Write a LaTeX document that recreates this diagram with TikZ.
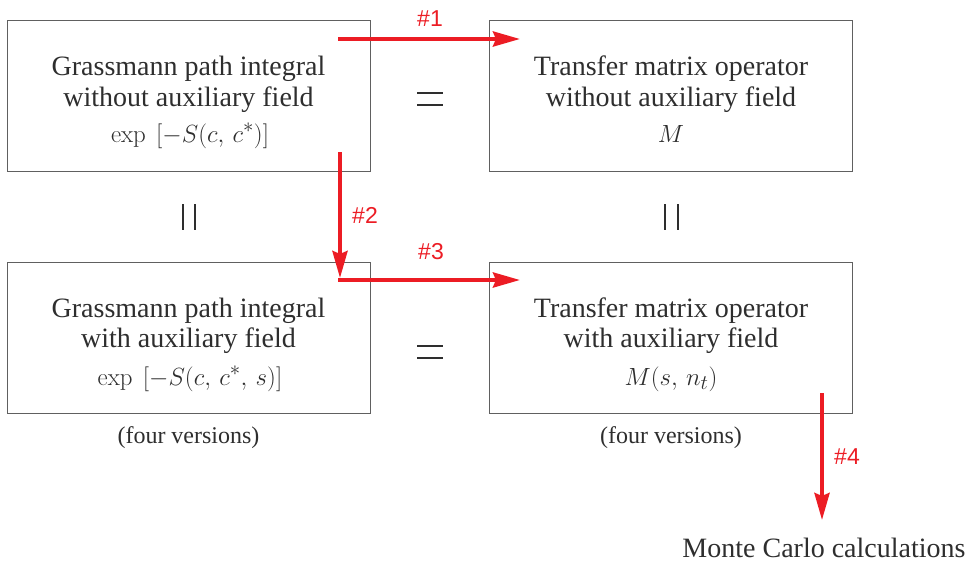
\documentclass[tikz,border=0pt]{standalone}
\usepackage[no-math]{fontspec}
\setmainfont{Liberation Serif}
\newfontfamily\labfont{Liberation Sans}
\usetikzlibrary{arrows.meta}
\definecolor{txt}{HTML}{2E2E2E}
\definecolor{boxc}{HTML}{606060}
\definecolor{arr}{HTML}{EC1C24}
\tikzset{
  box/.style={draw=boxc, line width=1pt, minimum width=363pt, minimum height=151pt, inner sep=0pt},
  main/.style={text=txt, font=\fontsize{28}{28}\selectfont, inner sep=0pt, anchor=base},
  small/.style={text=txt, font=\fontsize{24}{24}\selectfont, inner sep=0pt, anchor=base},
  mth/.style={text=txt, font=\fontsize{24.88}{24.88}\selectfont, inner sep=0pt, anchor=base},
  eqline/.style={draw=txt, line width=2pt},
  redarrow/.style={draw=arr, line width=4pt, -{Stealth[length=27pt,width=15pt,inset=3pt]}},
  rlab/.style={text=arr, font=\labfont\fontsize{23}{23}\selectfont, inner sep=0pt},
}
\begin{document}
\begin{tikzpicture}[x=1pt,y=-1pt]
\useasboundingbox (0,0) rectangle (969,565);
% boxes
\node[box] (tl) at (188.5,96) {};
\node[box] (tr) at (671,96) {};
\node[box] (bl) at (188.5,337.5) {};
\node[box] (br) at (671,337.5) {};
% texts top-left
\node[main] (tl1) at (188.5,75) {Grassmann path integral};
\node[main] (tl2) at (188.5,106) {without auxiliary field};
\node[mth] (tl3) at (190,142) {$\exp\ \,[-S(c,\,c^{*})]$};
% top-right
\node[main] (tr1) at (671,75) {Transfer matrix operator};
\node[main] (tr2) at (671,106) {without auxiliary field};
\node[mth] (tr3) at (671,142) {$M$};
% bottom-left
\node[main] (bl1) at (188.5,317) {Grassmann path integral};
\node[main] (bl2) at (188.5,347) {with auxiliary field};
\node[mth] (bl3) at (190,385) {$\exp\ \,[-S(c,\,c^{*},\,s)]$};
% bottom-right
\node[main] (br1) at (671,317) {Transfer matrix operator};
\node[main] (br2) at (671,347) {with auxiliary field};
\node[mth] (br3) at (671,385) {$M(s,\,n_t)$};
% equal signs (drawn)
\coordinate (e1a) at (417,93);  \coordinate (e1b) at (443,93);
\coordinate (e1c) at (417,105); \coordinate (e1d) at (443,105);
\draw[eqline] (e1a) -- (e1b) (e1c) -- (e1d);
\coordinate (e2a) at (417,346);  \coordinate (e2b) at (443,346);
\coordinate (e2c) at (417,358); \coordinate (e2d) at (443,358);
\draw[eqline] (e2a) -- (e2b) (e2c) -- (e2d);
\coordinate (e3a) at (182.5,204); \coordinate (e3b) at (182.5,230);
\coordinate (e3c) at (195,204);   \coordinate (e3d) at (195,230);
\draw[eqline] (e3a) -- (e3b) (e3c) -- (e3d);
\coordinate (e4a) at (665,204); \coordinate (e4b) at (665,230);
\coordinate (e4c) at (677.5,204);   \coordinate (e4d) at (677.5,230);
\draw[eqline] (e4a) -- (e4b) (e4c) -- (e4d);
% four versions
\node[small] (fv1) at (188.5,443) {(four versions)};
\node[small] (fv2) at (671,443) {(four versions)};
% Monte Carlo
\node[main] (mc) at (824,557) {Monte Carlo calculations};
% arrow coordinates
\coordinate (a1s) at (338,39);
\coordinate (a1e) at (520,39);
\coordinate (a2s) at (340,152);
\coordinate (a2e) at (340,278);
\coordinate (a3s) at (338,280);
\coordinate (a3e) at (520,280);
\coordinate (a4s) at (822,393);
\coordinate (a4e) at (822,520);
\draw[redarrow] (a1s) -- (a1e);
\draw[redarrow] (a2s) -- (a2e);
\draw[redarrow] (a3s) -- (a3e);
\draw[redarrow] (a4s) -- (a4e);
\node[rlab] (l1) at (430,19) {\#1};
\node[rlab] (l2) at (365,215) {\#2};
\node[rlab] (l3) at (431,252) {\#3};
\node[rlab] (l4) at (847,457) {\#4};
\end{tikzpicture}
\end{document}
